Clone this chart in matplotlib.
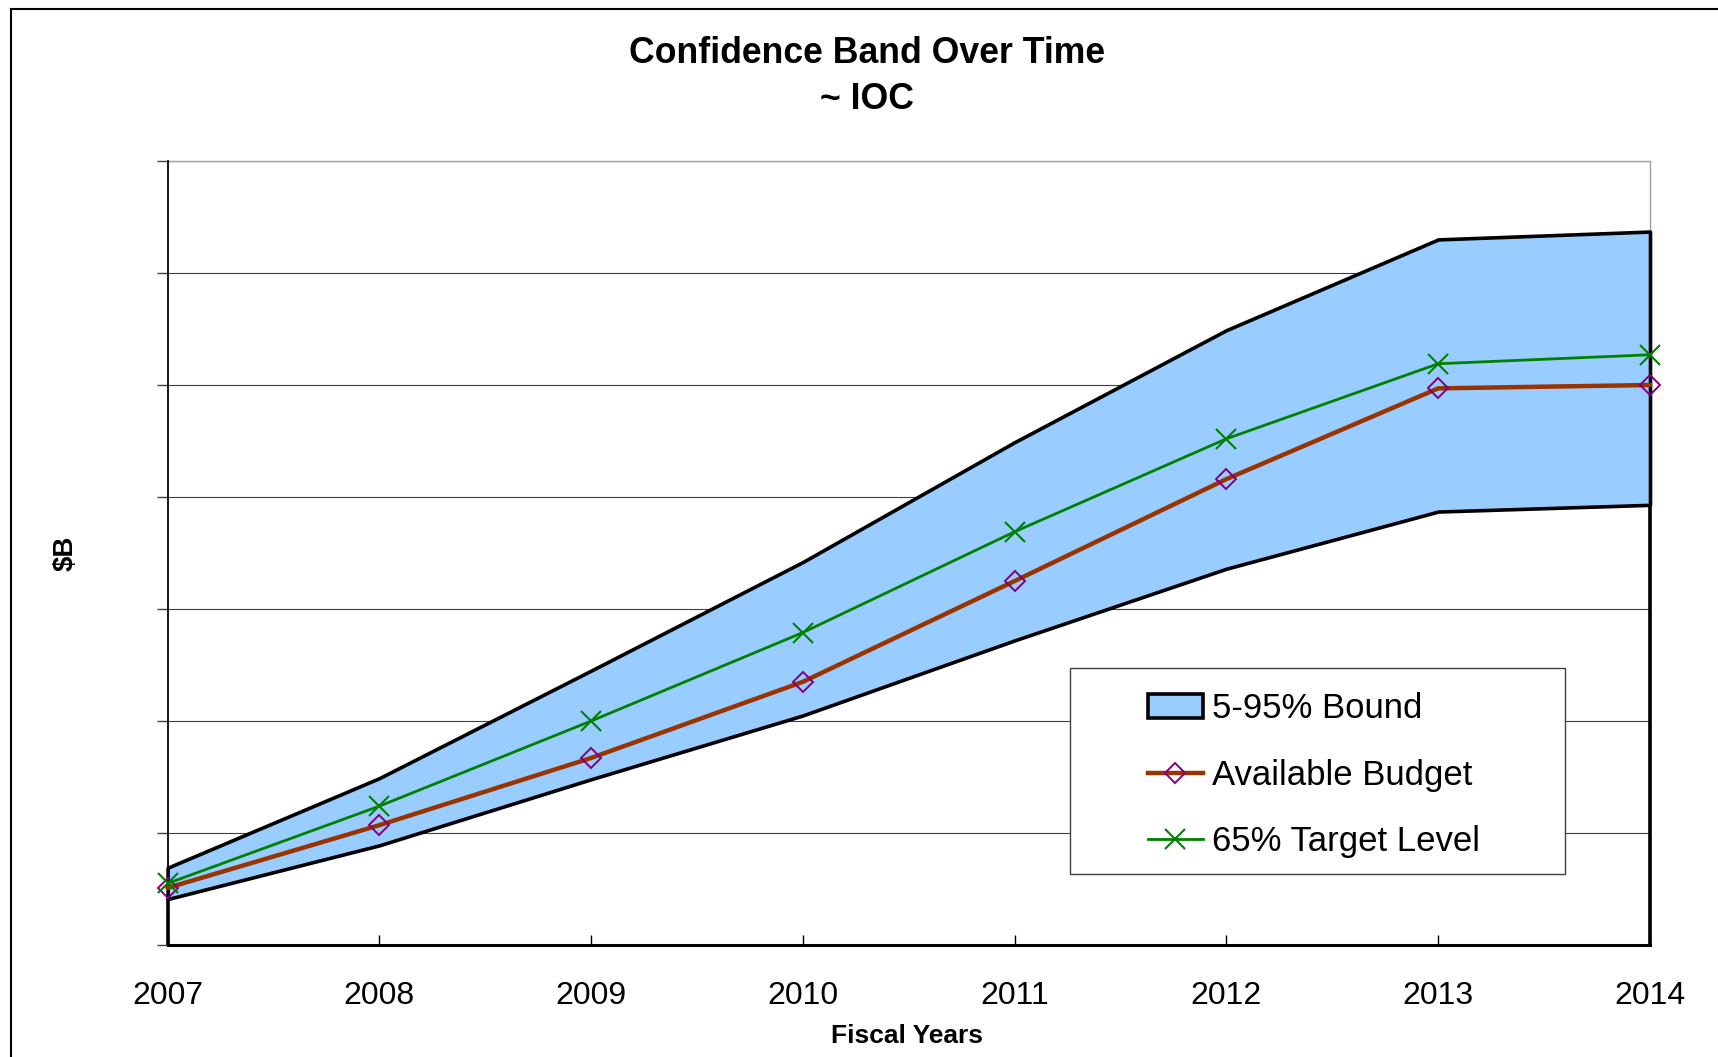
import matplotlib
matplotlib.use('Agg')
import matplotlib.pyplot as plt
from matplotlib.patches import Rectangle, Patch
from matplotlib.lines import Line2D

# ---- data (in gridline units; the y axis carries no value labels) ----
years = [2007, 2008, 2009, 2010, 2011, 2012, 2013, 2014]
lower_5 = [0.41, 0.89, 1.48, 2.05, 2.72, 3.36, 3.87, 3.93]
upper_95 = [0.69, 1.49, 2.45, 3.42, 4.49, 5.49, 6.30, 6.37]
available_budget = [0.51, 1.07, 1.67, 2.35, 3.25, 4.16, 4.97, 5.00]
target_65 = [0.55, 1.24, 2.00, 2.79, 3.69, 4.52, 5.19, 5.27]
y_ticks = [0, 1, 2, 3, 4, 5, 6, 7]
x_labels = [str(y) for y in years]
legend_labels = ['5-95% Bound', 'Available Budget', '65% Target Level']

plt.rcParams['font.family'] = ['Liberation Sans', 'DejaVu Sans']

W, H = 1718, 1057
fig = plt.figure(figsize=(W / 100, H / 100), dpi=100)
fig.patch.set_facecolor('white')

ax_l, ax_r, ax_t, ax_b = 167.6, 1650, 161, 945
ax = fig.add_axes([ax_l / W, 1 - ax_b / H, (ax_r - ax_l) / W, (ax_b - ax_t) / H])

ax.set_xlim(years[0], years[-1])
ax.set_ylim(y_ticks[0], y_ticks[-1])
ax.set_yticks(y_ticks)
ax.set_yticklabels([])
ax.set_xticks(years)
ax.set_xticklabels(x_labels, fontsize=23)
ax.grid(axis='y', color='#404040', lw=0.8)
ax.set_axisbelow(True)
ax.tick_params(axis='y', direction='out', length=8, width=1, color='#404040')
ax.tick_params(axis='x', direction='in', length=7, width=1, color='black', pad=26)

for s in ['top', 'right']:
    ax.spines[s].set_color('#a0a0a0')
    ax.spines[s].set_linewidth(1)
    ax.spines[s].set_zorder(1)
ax.spines['left'].set_color('black')
ax.spines['left'].set_linewidth(1.3)
ax.spines['bottom'].set_color('black')
ax.spines['bottom'].set_linewidth(2.2)

band_color = '#99CCFF'
ax.fill_between(years, lower_5, upper_95, facecolor=band_color, edgecolor='black',
                lw=2.6, zorder=2, clip_on=False)
ax.vlines([years[0], years[-1]], 0, [lower_5[0], lower_5[-1]], colors='black',
          lw=2.6, zorder=2, clip_on=False)

budget_kw = dict(color='#993300', lw=3.2, marker='D', ms=10, mfc='none',
                 mec='#800080', mew=1.4)
target_kw = dict(color='#008000', lw=2.0, marker='x', ms=14, mec='#008000', mew=1.5)
ax.plot(years, available_budget, zorder=3, clip_on=False, **budget_kw)
ax.plot(years, target_65, zorder=4, clip_on=False, **target_kw)

# legend box
lx0, lx1, ly0, ly1 = 1070, 1565, 668, 874
fig.add_artist(Rectangle((lx0 / W, 1 - ly1 / H), (lx1 - lx0) / W, (ly1 - ly0) / H,
                         transform=fig.transFigure, facecolor='white',
                         edgecolor='#404040', lw=1, zorder=4))
handles = [Patch(facecolor=band_color, edgecolor='black', lw=2.6),
           Line2D([], [], **budget_kw),
           Line2D([], [], **target_kw)]
fig.legend(handles, legend_labels, loc='upper left',
           bbox_to_anchor=(1148 / W, 1 - 692 / H), bbox_transform=fig.transFigure,
           frameon=False, fontsize=25, borderpad=0, borderaxespad=0,
           handlelength=1.58, handletextpad=0.25, labelspacing=0.97,
           handleheight=0.7, numpoints=1)

# titles and axis labels
fig.text(867 / W, 1 - 53.5 / H, 'Confidence Band Over Time', ha='center', va='center',
         fontsize=25.7, fontweight='bold')
fig.text(867 / W, 1 - 99.5 / H, '~ IOC', ha='center', va='center',
         fontsize=25.7, fontweight='bold')
fig.text(907 / W, 1 - 1036 / H, 'Fiscal Years', ha='center', va='center',
         fontsize=19, fontweight='bold')
fig.text(66 / W, 1 - 553 / H, r'\$B', ha='center', va='center', rotation=90,
         fontsize=20, fontweight='bold')

# chart-object border (left and top edges visible)
fig.add_artist(Line2D([11 / W, 11 / W], [0, 1 - 9 / H], transform=fig.transFigure,
                      color='black', lw=1.5))
fig.add_artist(Line2D([11 / W, 1], [1 - 9 / H, 1 - 9 / H], transform=fig.transFigure,
                      color='black', lw=1.5))

fig.savefig('out.png', dpi=100)
